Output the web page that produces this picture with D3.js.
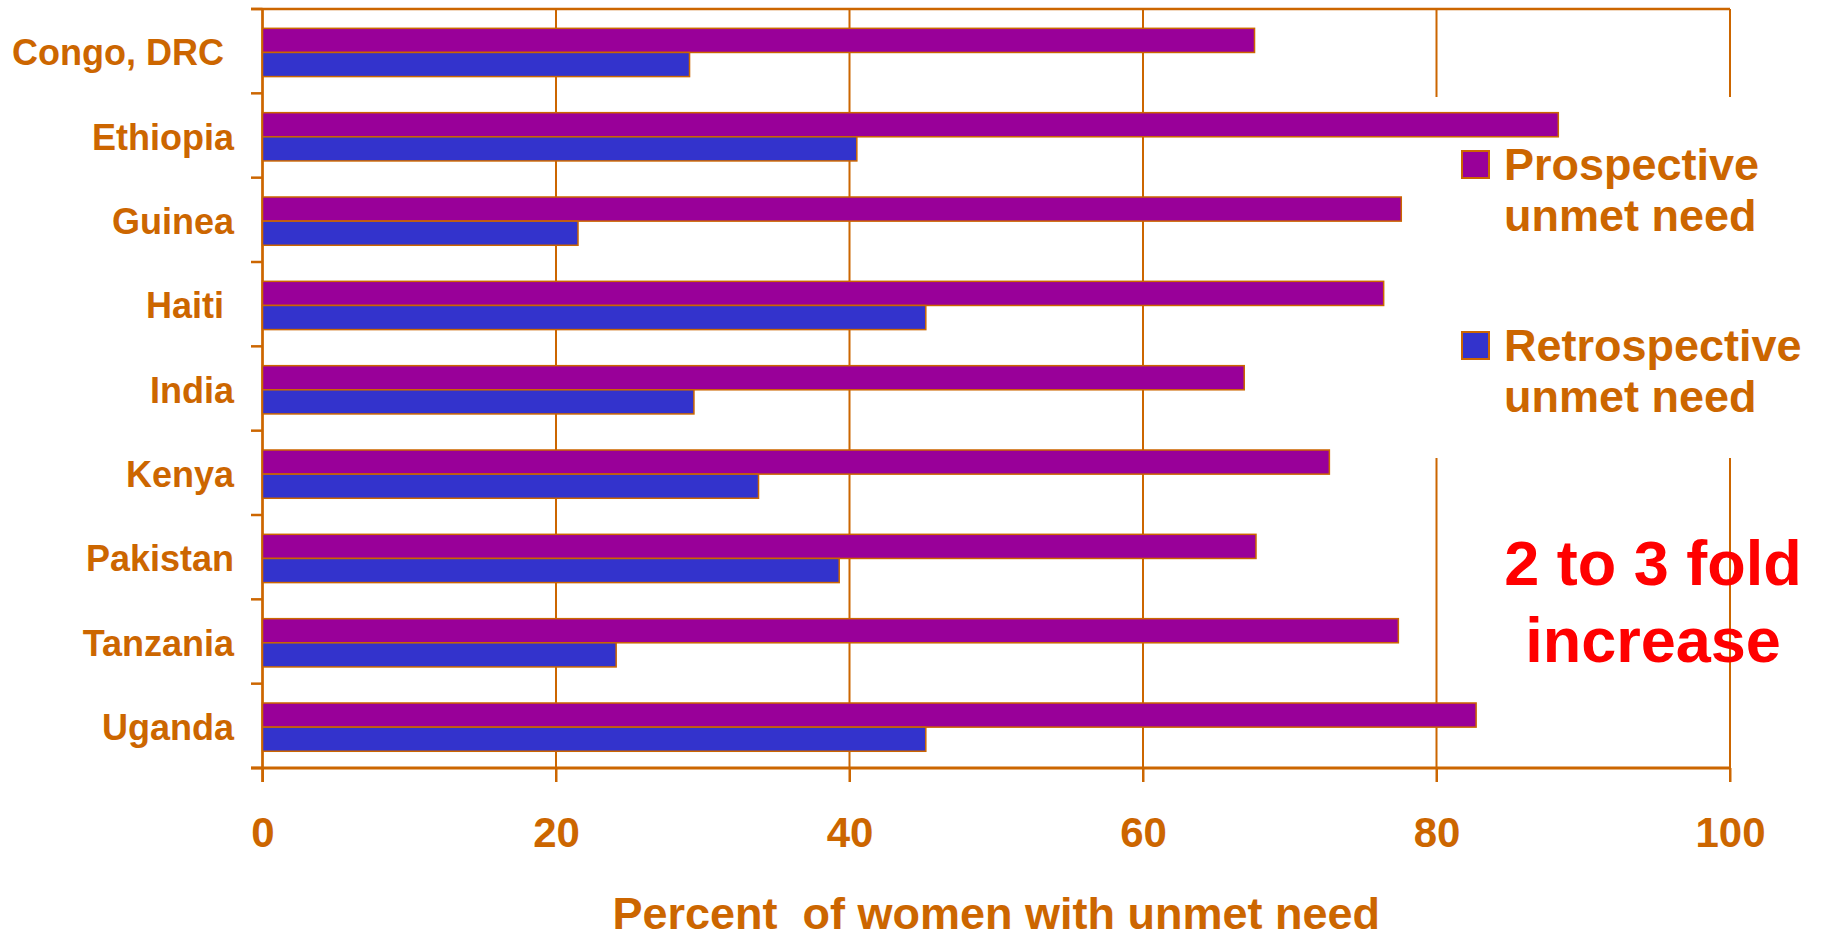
<!DOCTYPE html>
<html>
<head>
<meta charset="utf-8">
<script src="https://cdn.jsdelivr.net/npm/d3@7/dist/d3.min.js"></script>
<style>
  html, body { margin: 0; padding: 0; background: #ffffff; }
  svg { display: block; }
  text { font-family: "Liberation Sans", Arial, sans-serif; font-weight: bold; white-space: pre; }
</style>
</head>
<body>
<svg id="chart" width="1822" height="933"></svg>
<script>
// ---- Data ----
const categories = ["Congo, DRC ", "Ethiopia", "Guinea", "Haiti ", "India", "Kenya", "Pakistan", "Tanzania", "Uganda"];
const seriesNames = ["Prospective unmet need", "Retrospective unmet need"];
const prospective = [67.6, 88.3, 77.6, 76.4, 66.9, 72.7, 67.7, 77.4, 82.7];
const retrospective = [29.1, 40.5, 21.5, 45.2, 29.4, 33.8, 39.3, 24.1, 45.2];
const xTicks = [0, 20, 40, 60, 80, 100];
const xTitle = "Percent  of women with unmet need";
const legendLines = [["Prospective", "unmet need"], ["Retrospective", "unmet need"]];
const noteLines = ["2 to 3 fold", "increase"];

const ORANGE = "#CC6600";
const colors = ["#990099", "#3333CC"];

const svg = d3.select("#chart");

const x = d3.scaleLinear().domain([0, 100]).range([262.5, 1730]);
const y = d3.scaleBand().domain(categories).range([9, 768]).paddingInner(0).paddingOuter(0);
const sub = d3.scaleBand().domain(seriesNames).range([0, y.bandwidth()])
  .paddingInner(0).paddingOuter(0.747).align(0.536);

const plotTop = y.range()[0], plotBottom = y.range()[1];

// gridlines
const grid = svg.append("g");
grid.selectAll("line.grid").data(xTicks).join("line")
  .attr("x1", d => x(d)).attr("x2", d => x(d))
  .attr("y1", plotTop).attr("y2", plotBottom + 14)
  .attr("stroke", ORANGE).attr("stroke-width", 2);

// white legend background interrupting gridlines
svg.append("rect")
  .attr("x", 1420).attr("y", 97).attr("width", 330).attr("height", 361)
  .attr("fill", "#ffffff");

// top border line
svg.append("line")
  .attr("x1", 251).attr("x2", x(100))
  .attr("y1", plotTop).attr("y2", plotTop)
  .attr("stroke", ORANGE).attr("stroke-width", 2.5);

// y axis line & ticks
const bounds = categories.map(c => y(c)).concat([plotBottom]);
svg.append("line")
  .attr("x1", x(0)).attr("x2", x(0))
  .attr("y1", plotTop).attr("y2", plotBottom + 14)
  .attr("stroke", ORANGE).attr("stroke-width", 2.5);
svg.selectAll("line.ytick").data(bounds).join("line")
  .attr("class", "ytick")
  .attr("x1", 251).attr("x2", x(0))
  .attr("y1", d => d).attr("y2", d => d)
  .attr("stroke", ORANGE).attr("stroke-width", 2.5);

// x axis
const xAxis = svg.append("g")
  .attr("transform", `translate(0,${plotBottom})`)
  .call(d3.axisBottom(x).tickValues(xTicks).tickSize(14).tickSizeOuter(0));
xAxis.select(".domain").remove();
xAxis.selectAll(".tick line").attr("stroke", ORANGE).attr("stroke-width", 2);
xAxis.selectAll(".tick text")
  .attr("y", 79).attr("dy", 0)
  .attr("fill", ORANGE)
  .style("font-size", "42px");
svg.append("line")
  .attr("x1", 251).attr("x2", x(100))
  .attr("y1", plotBottom).attr("y2", plotBottom)
  .attr("stroke", ORANGE).attr("stroke-width", 3);

// bars
const rows = categories.map((c, i) => ({ c, vals: [prospective[i], retrospective[i]] }));
const groups = svg.append("g").selectAll("g").data(rows).join("g")
  .attr("transform", d => `translate(0,${y(d.c)})`);
groups.selectAll("rect").data(d => d.vals.map((v, j) => ({ v, s: seriesNames[j], j }))).join("rect")
  .attr("x", x(0))
  .attr("y", d => sub(d.s))
  .attr("width", d => x(d.v) - x(0))
  .attr("height", sub.bandwidth())
  .attr("fill", d => colors[d.j])
  .attr("stroke", ORANGE).attr("stroke-width", 1.5);

// category labels
svg.append("g").selectAll("text").data(categories).join("text")
  .attr("x", 234)
  .attr("y", d => y(d) + y.bandwidth() / 2 + 14)
  .attr("text-anchor", "end")
  .attr("fill", ORANGE)
  .style("font-size", "36px")
  .text(d => d);

// x title
svg.append("text")
  .attr("x", (x(0) + x(100)) / 2)
  .attr("y", 929)
  .attr("text-anchor", "middle")
  .attr("fill", ORANGE)
  .style("font-size", "45px")
  .text(xTitle);

// legend
const legTops = [151, 332];
legendLines.forEach((lines, i) => {
  svg.append("rect")
    .attr("x", 1462).attr("y", legTops[i]).attr("width", 27).attr("height", 27)
    .attr("fill", colors[i]).attr("stroke", ORANGE).attr("stroke-width", 2);
  lines.forEach((t, k) => {
    svg.append("text")
      .attr("x", 1504).attr("y", legTops[i] + 29 + k * 51)
      .attr("fill", ORANGE)
      .style("font-size", "45px")
      .text(t);
  });
});

// note
noteLines.forEach((t, k) => {
  svg.append("text")
    .attr("x", 1653).attr("y", 585 + k * 77)
    .attr("text-anchor", "middle")
    .attr("fill", "#FF0000")
    .style("font-size", "63px")
    .text(t);
});
</script>
</body>
</html>
